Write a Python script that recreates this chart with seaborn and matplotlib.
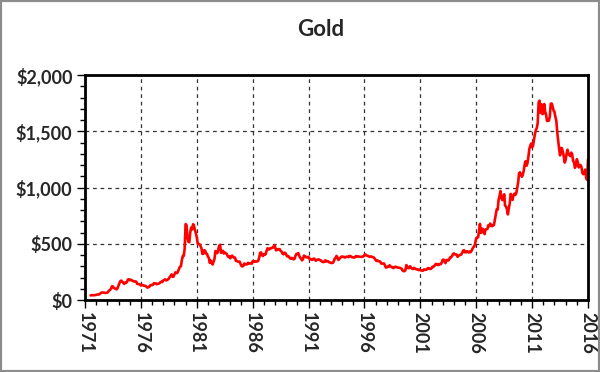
import numpy as np
import pandas as pd
import matplotlib.pyplot as plt
import matplotlib.ticker as mticker
import seaborn as sns

# monthly gold price (USD/oz), starting July 1971
start_year = 1971.5
price = [
    40.9, 42.7, 42.0, 42.5, 42.9, 43.5,
    45.8, 48.3, 48.3, 49.0, 54.6, 62.1, 65.7, 67.0, 65.5, 64.9, 62.9, 63.9,
    65.1, 74.2, 84.4, 90.5, 102.0, 122.5, 120.2, 106.8, 103.0, 100.1, 94.8, 106.7,
    129.2, 150.2, 168.4, 172.2, 163.3, 154.1, 143.0, 154.6, 151.8, 158.8, 181.7, 183.9,
    176.3, 179.6, 178.2, 170.1, 167.4, 164.2, 165.2, 163.1, 144.1, 142.7, 142.3, 139.3,
    128.1, 132.3, 132.6, 128.2, 125.9, 125.7, 117.7, 109.9, 114.2, 116.1, 130.5, 133.8,
    132.3, 136.2, 148.3, 149.2, 146.9, 140.9, 143.3, 144.8, 149.2, 158.5, 162.4, 160.5,
    173.1, 178.1, 183.7, 175.2, 176.3, 183.1, 188.2, 206.3, 212.9, 227.8, 206.1, 207.8,
    227.3, 245.7, 242.1, 239.2, 257.3, 279.1, 294.7, 301.0, 355.1, 392.0, 392.3, 455.1,
    675.3, 665.3, 553.6, 517.4, 513.8, 600.7, 644.3, 626.5, 673.6, 661.1, 623.5, 594.9,
    557.6, 499.8, 498.8, 495.0, 479.7, 460.8, 409.4, 410.8, 443.1, 437.8, 413.4, 410.1,
    384.2, 374.1, 330.2, 350.5, 333.9, 314.9, 338.6, 364.3, 435.3, 422.3, 416.1, 444.9,
    481.3, 491.0, 418.9, 432.8, 437.7, 413.0, 422.8, 416.2, 411.7, 393.7, 381.9, 388.4,
    370.6, 385.7, 394.4, 381.5, 377.5, 377.7, 347.5, 348.3, 341.3, 340.2, 341.4, 320.2,
    303.0, 298.9, 303.6, 324.7, 316.6, 316.8, 317.2, 330.7, 323.2, 325.7, 325.3, 322.4,
    345.4, 338.9, 345.7, 340.4, 342.5, 342.6, 348.7, 376.6, 418.0, 423.5, 398.2, 391.3,
    408.3, 401.1, 408.9, 438.4, 460.2, 449.6, 450.6, 460.4, 460.5, 465.0, 466.4, 486.3,
    477.3, 442.0, 443.6, 451.9, 451.3, 451.8, 437.0, 431.9, 413.2, 406.1, 420.1, 418.6,
    404.2, 388.0, 390.2, 384.3, 371.0, 367.6, 375.0, 365.4, 361.9, 366.9, 393.7, 409.1,
    410.1, 416.9, 393.1, 374.3, 369.1, 352.3, 362.5, 394.7, 389.3, 380.7, 381.8, 378.2,
    383.6, 363.8, 363.3, 358.4, 356.8, 366.7, 367.7, 356.2, 348.7, 358.3, 359.7, 361.1,
    354.5, 353.9, 344.4, 338.6, 337.2, 340.8, 352.7, 342.9, 345.4, 344.4, 335.0, 334.8,
    329.0, 329.3, 330.1, 342.2, 367.2, 371.9, 392.0, 378.7, 355.5, 364.2, 373.8, 383.3,
    386.9, 381.9, 384.1, 377.3, 381.4, 385.6, 385.5, 380.4, 391.6, 389.8, 384.4, 379.3,
    378.6, 376.6, 382.1, 391.0, 385.3, 387.6, 386.2, 383.7, 383.1, 383.1, 386.0, 387.4,
    400.0, 405.0, 396.2, 392.9, 392.0, 385.3, 383.5, 387.5, 383.1, 381.1, 377.9, 369.0,
    355.0, 346.6, 351.8, 344.5, 343.8, 340.8, 324.1, 324.0, 322.8, 324.9, 306.0, 288.7,
    289.1, 297.5, 295.9, 308.4, 299.1, 292.3, 292.9, 284.1, 289.0, 295.9, 294.1, 291.6,
    287.1, 287.3, 285.9, 282.6, 276.4, 261.3, 256.1, 256.7, 264.7, 310.7, 293.2, 283.1,
    284.3, 299.9, 286.4, 279.7, 275.2, 285.7, 281.6, 274.5, 273.7, 270.0, 266.0, 271.5,
    265.5, 261.9, 263.0, 260.5, 272.4, 270.2, 267.5, 272.4, 283.4, 283.1, 276.2, 275.9,
    281.7, 295.5, 294.0, 302.7, 314.5, 321.2, 313.3, 310.3, 319.2, 316.6, 319.2, 333.4,
    356.9, 359.0, 340.6, 328.2, 355.7, 356.4, 351.0, 359.8, 378.9, 378.9, 389.9, 407.6,
    414.0, 405.3, 406.7, 403.0, 383.8, 392.4, 398.1, 400.5, 405.3, 420.5, 439.4, 442.1,
    424.0, 423.4, 434.2, 429.2, 421.9, 430.7, 424.5, 437.9, 456.0, 469.9, 476.7, 510.1,
    549.9, 555.0, 557.1, 610.6, 676.5, 596.2, 633.7, 632.6, 598.2, 585.8, 627.8, 629.8,
    631.2, 664.8, 655.5, 679.4, 666.9, 655.5, 665.3, 665.4, 712.7, 754.6, 806.3, 803.2,
    889.6, 922.3, 968.4, 909.7, 888.7, 889.5, 939.8, 839.0, 829.9, 806.6, 760.9, 816.1,
    858.7, 943.2, 924.3, 890.2, 928.6, 945.7, 934.2, 949.4, 996.6, 1043.2, 1127.0, 1134.7,
    1118.0, 1095.4, 1113.3, 1148.7, 1205.4, 1232.9, 1193.0, 1215.8, 1271.0, 1342.0, 1369.9, 1390.6,
    1356.4, 1372.7, 1424.0, 1473.8, 1510.4, 1528.7, 1572.8, 1755.8, 1771.9, 1665.2, 1739.0, 1652.3,
    1656.1, 1742.6, 1673.8, 1649.7, 1591.2, 1598.8, 1594.3, 1630.3, 1744.8, 1746.6, 1721.6, 1684.8,
    1671.9, 1627.6, 1593.1, 1487.9, 1414.0, 1343.4, 1285.5, 1351.7, 1348.6, 1316.6, 1275.9, 1221.5,
    1244.3, 1299.6, 1336.1, 1298.5, 1288.7, 1279.1, 1310.6, 1295.1, 1236.6, 1222.5, 1175.3, 1200.6,
    1251.8, 1227.1, 1178.6, 1198.9, 1198.6, 1181.5, 1128.3, 1117.9, 1124.8, 1159.3, 1086.4, 1068.3,
    1250.0,
]
year_ticks = list(range(1971, 2017, 5))
price_ticks = [0, 500, 1000, 1500, 2000]

df = pd.DataFrame({'year': start_year + np.arange(len(price)) / 12, 'price': price})

sns.set_style('ticks')
plt.rcParams['font.family'] = ['Lato', 'DejaVu Sans']

fig = plt.figure(figsize=(6, 3.72), dpi=100)
ax = fig.add_axes([85 / 600, 72 / 372, 503 / 600, 225 / 372])

sns.lineplot(data=df, x='year', y='price', color='#ff0000', linewidth=1.9, ax=ax)

ax.set_xlim(1971, 2016)
ax.set_ylim(0, 2000)
ax.set_xticks(year_ticks)
ax.set_xticklabels([str(y) for y in year_ticks], rotation=270, fontsize=13, fontweight='bold')
ax.xaxis.set_minor_locator(mticker.MultipleLocator(1))
ax.set_yticks(price_ticks)
ax.yaxis.set_major_formatter(mticker.StrMethodFormatter('${x:,.0f}'))
ax.yaxis.set_minor_locator(mticker.MultipleLocator(100))
for lab in ax.get_yticklabels():
    lab.set_fontsize(13)
    lab.set_fontweight('bold')

ax.tick_params(which='major', direction='out', length=6, width=1, color='black', pad=3)
ax.tick_params(which='minor', direction='out', length=3.5, width=1, color='black')
ax.set_xlabel('')
ax.set_ylabel('')

ax.grid(True, which='major', color='#333333', linestyle=(0, (3, 3)), linewidth=0.9)
for side in ['left', 'right', 'top', 'bottom']:
    ax.spines[side].set_visible(True)
    ax.spines[side].set_linewidth(2)
    ax.spines[side].set_color('black')

fig.text(321 / 600, 1 - 29 / 372, 'Gold', ha='center', va='center', fontsize=16, fontweight='bold')

# outer chart border
fig.add_artist(plt.Rectangle((0, 0), 1, 1, transform=fig.transFigure, fill=False,
                             edgecolor='#8c8c8c', linewidth=3))

fig.savefig('out.png', dpi=100)
